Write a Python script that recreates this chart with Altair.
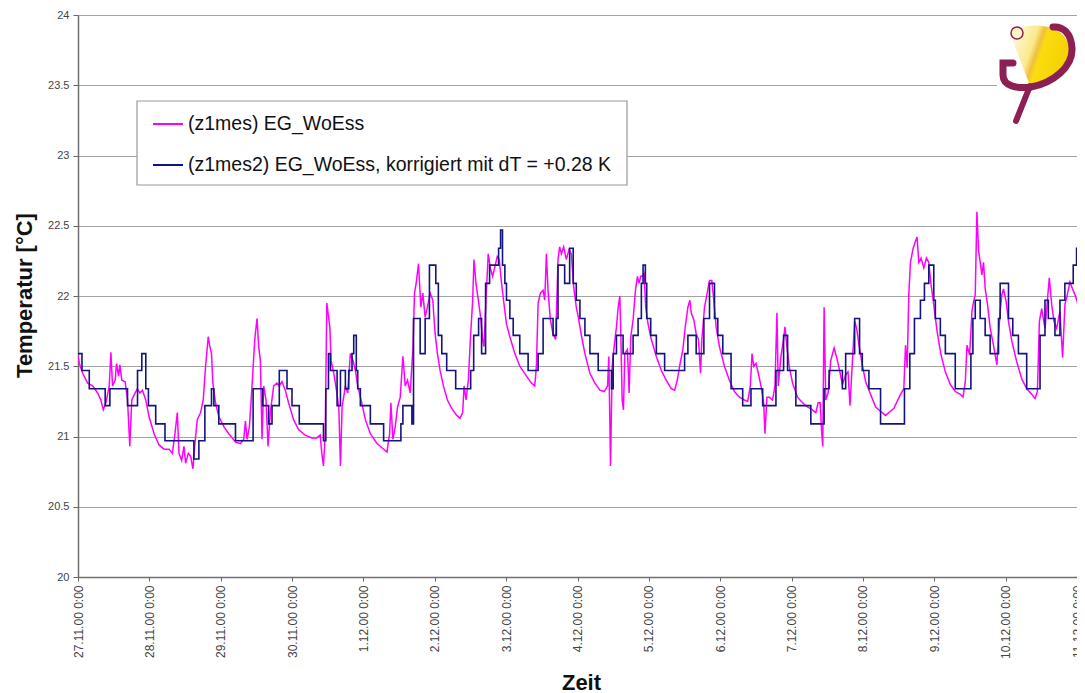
import base64
import json
import altair as alt
import pandas as pd

# ---------------- data (time in days since 27.11.00 0:00, temperature in °C) ----------------
tick_labels = ["27.11.00 0:00", "28.11.00 0:00", "29.11.00 0:00", "30.11.00 0:00",
               "1.12.00 0:00", "2.12.00 0:00", "3.12.00 0:00", "4.12.00 0:00",
               "5.12.00 0:00", "6.12.00 0:00", "7.12.00 0:00", "8.12.00 0:00",
               "9.12.00 0:00", "10.12.00 0:00", "11.12.00 0:00"]
y_ticks = [20, 20.5, 21, 21.5, 22, 22.5, 23, 23.5, 24]

series_names = ["(z1mes) EG_WoEss",
                "(z1mes2) EG_WoEss, korrigiert mit dT = +0.28 K"]
series_colors = ["#ff00ff", "#14147f"]

z1mes = [
    (0.000, 21.57), (0.019, 21.52), (0.065, 21.45), (0.135, 21.38), (0.205, 21.36),
    (0.275, 21.31), (0.321, 21.26), (0.354, 21.19), (0.391, 21.24), (0.438, 21.36),
    (0.461, 21.60), (0.484, 21.36), (0.521, 21.40), (0.540, 21.52), (0.568, 21.43),
    (0.587, 21.51), (0.614, 21.40), (0.661, 21.39), (0.694, 21.26), (0.726, 20.93),
    (0.754, 21.26), (0.801, 21.31), (0.833, 21.34), (0.866, 21.31), (0.903, 21.33),
    (0.950, 21.26), (0.996, 21.14), (1.066, 21.02), (1.136, 20.94), (1.206, 20.91),
    (1.276, 20.91), (1.322, 20.88), (1.359, 21.02), (1.392, 21.17), (1.415, 20.88),
    (1.452, 20.83), (1.485, 20.93), (1.508, 20.81), (1.546, 20.88), (1.578, 20.86),
    (1.611, 20.77), (1.639, 20.95), (1.671, 21.12), (1.718, 21.17), (1.755, 21.26),
    (1.788, 21.50), (1.825, 21.71), (1.848, 21.64), (1.871, 21.59), (1.890, 21.38),
    (1.927, 21.24), (1.974, 21.14), (2.044, 21.07), (2.114, 21.02), (2.207, 20.96),
    (2.276, 20.95), (2.323, 20.98), (2.346, 21.11), (2.370, 20.98), (2.402, 21.07),
    (2.439, 21.36), (2.477, 21.69), (2.509, 21.84), (2.532, 21.64), (2.556, 21.54),
    (2.579, 20.98), (2.602, 21.36), (2.635, 21.26), (2.663, 20.93), (2.695, 21.17),
    (2.742, 21.36), (2.789, 21.38), (2.821, 21.36), (2.858, 21.39), (2.905, 21.33),
    (2.951, 21.24), (3.021, 21.12), (3.091, 21.05), (3.184, 21.01), (3.277, 20.99),
    (3.347, 20.99), (3.394, 21.01), (3.417, 20.88), (3.440, 20.79), (3.464, 21.02),
    (3.487, 21.95), (3.529, 21.78), (3.547, 21.54), (3.585, 21.45), (3.622, 21.33),
    (3.655, 21.21), (3.678, 20.79), (3.701, 21.21), (3.748, 21.36), (3.780, 21.31),
    (3.817, 21.59), (3.855, 21.54), (3.887, 21.47), (3.920, 21.36), (3.967, 21.26),
    (4.027, 21.12), (4.097, 21.02), (4.190, 20.95), (4.260, 20.92), (4.330, 20.89),
    (4.367, 21.02), (4.385, 21.24), (4.413, 20.98), (4.446, 21.07), (4.478, 21.21),
    (4.516, 21.28), (4.553, 21.57), (4.586, 21.36), (4.618, 21.40), (4.655, 21.31),
    (4.693, 21.62), (4.716, 22.02), (4.739, 22.09), (4.772, 22.23), (4.804, 21.92),
    (4.832, 22.02), (4.865, 21.85), (4.897, 21.92), (4.935, 22.02), (4.972, 21.97),
    (5.005, 21.73), (5.037, 21.59), (5.074, 21.47), (5.121, 21.36), (5.177, 21.26),
    (5.237, 21.20), (5.307, 21.15), (5.354, 21.13), (5.391, 21.17), (5.410, 21.36),
    (5.438, 21.26), (5.470, 21.40), (5.503, 21.73), (5.531, 21.97), (5.549, 22.26),
    (5.577, 22.09), (5.610, 21.97), (5.642, 21.85), (5.670, 21.69), (5.689, 21.64),
    (5.717, 21.97), (5.749, 22.30), (5.782, 22.19), (5.810, 22.14), (5.843, 22.21),
    (5.875, 22.28), (5.903, 22.26), (5.936, 22.09), (5.968, 21.95), (6.005, 21.80),
    (6.052, 21.71), (6.122, 21.59), (6.192, 21.50), (6.285, 21.43), (6.355, 21.38),
    (6.401, 21.36), (6.424, 21.50), (6.448, 21.95), (6.480, 22.02), (6.518, 22.04),
    (6.541, 21.97), (6.564, 22.30), (6.587, 22.04), (6.620, 21.83), (6.657, 21.73),
    (6.694, 21.69), (6.727, 22.26), (6.750, 22.35), (6.774, 22.30), (6.806, 22.35),
    (6.843, 22.26), (6.881, 22.33), (6.913, 22.30), (6.946, 22.07), (6.983, 21.92),
    (7.011, 21.85), (7.058, 21.71), (7.104, 21.59), (7.174, 21.45), (7.244, 21.38),
    (7.314, 21.33), (7.374, 21.32), (7.421, 21.36), (7.439, 21.57), (7.463, 20.79),
    (7.486, 21.50), (7.514, 21.64), (7.546, 21.78), (7.570, 21.92), (7.593, 22.00),
    (7.607, 21.73), (7.626, 21.26), (7.644, 21.19), (7.663, 21.59), (7.700, 21.62),
    (7.723, 21.31), (7.747, 21.71), (7.779, 21.83), (7.812, 22.04), (7.840, 22.14),
    (7.863, 22.09), (7.886, 22.14), (7.909, 22.14), (7.933, 22.16), (7.956, 21.92),
    (7.989, 21.80), (8.035, 21.69), (8.105, 21.57), (8.175, 21.47), (8.245, 21.40),
    (8.314, 21.34), (8.361, 21.33), (8.398, 21.40), (8.431, 21.50), (8.477, 21.62),
    (8.510, 21.78), (8.547, 21.92), (8.575, 21.97), (8.594, 21.88), (8.631, 21.83),
    (8.664, 21.73), (8.696, 21.69), (8.724, 21.45), (8.743, 21.69), (8.780, 21.92),
    (8.817, 22.02), (8.850, 22.11), (8.882, 22.11), (8.910, 21.97), (8.943, 21.78),
    (8.989, 21.64), (9.059, 21.50), (9.129, 21.40), (9.199, 21.32), (9.269, 21.28),
    (9.339, 21.26), (9.385, 21.25), (9.422, 21.36), (9.446, 21.59), (9.469, 21.50),
    (9.502, 21.52), (9.534, 21.45), (9.571, 21.36), (9.609, 21.24), (9.627, 21.02),
    (9.655, 21.28), (9.688, 21.28), (9.734, 21.26), (9.767, 21.36), (9.795, 21.88),
    (9.813, 21.36), (9.851, 21.57), (9.888, 21.69), (9.907, 21.78), (9.935, 21.64),
    (9.967, 21.50), (10.014, 21.38), (10.083, 21.28), (10.153, 21.24), (10.223, 21.21),
    (10.293, 21.19), (10.340, 21.17), (10.372, 21.24), (10.400, 21.24), (10.423, 21.02),
    (10.437, 20.93), (10.456, 21.92), (10.479, 21.26), (10.512, 21.31), (10.549, 21.54),
    (10.596, 21.63), (10.633, 21.56), (10.665, 21.49), (10.712, 21.37), (10.759, 21.44),
    (10.791, 21.46), (10.819, 21.22), (10.852, 21.53), (10.884, 21.82), (10.912, 21.77),
    (10.945, 21.65), (10.991, 21.51), (11.038, 21.39), (11.108, 21.30), (11.178, 21.21),
    (11.247, 21.18), (11.317, 21.15), (11.387, 21.18), (11.434, 21.20), (11.480, 21.25),
    (11.527, 21.30), (11.573, 21.34), (11.597, 21.65), (11.620, 21.49), (11.643, 22.01),
    (11.666, 22.24), (11.704, 22.34), (11.736, 22.39), (11.759, 22.42), (11.783, 22.24),
    (11.815, 22.27), (11.853, 22.20), (11.890, 22.27), (11.922, 22.24), (11.955, 22.08),
    (11.992, 21.94), (12.039, 21.75), (12.095, 21.58), (12.155, 21.46), (12.225, 21.37),
    (12.295, 21.32), (12.365, 21.30), (12.402, 21.28), (12.435, 21.39), (12.458, 21.65),
    (12.495, 21.58), (12.528, 21.89), (12.551, 21.96), (12.574, 22.01), (12.597, 22.60),
    (12.621, 22.32), (12.644, 22.24), (12.667, 22.15), (12.690, 22.24), (12.714, 22.05),
    (12.746, 21.94), (12.784, 21.77), (12.830, 21.65), (12.877, 21.51), (12.900, 21.72),
    (12.923, 21.89), (12.947, 22.01), (12.970, 22.05), (13.007, 21.96), (13.040, 21.82),
    (13.086, 21.68), (13.156, 21.53), (13.226, 21.41), (13.296, 21.34), (13.365, 21.30),
    (13.412, 21.27), (13.445, 21.32), (13.473, 21.82), (13.505, 21.91), (13.552, 21.77),
    (13.584, 21.96), (13.612, 22.13), (13.645, 21.94), (13.677, 21.82), (13.715, 21.77),
    (13.761, 21.89), (13.798, 21.56), (13.831, 21.94), (13.864, 22.01), (13.901, 22.10),
    (13.938, 22.05), (13.971, 22.01), (14.003, 21.96), (14.031, 21.89), (14.054, 21.82),
]

z1mes2 = [
    (0.000, 21.59), (0.056, 21.47), (0.158, 21.34), (0.381, 21.22), (0.447, 21.34),
    (0.694, 21.22), (0.834, 21.47), (0.894, 21.59), (0.950, 21.34), (0.987, 21.22),
    (1.089, 21.09), (1.219, 20.97), (1.624, 20.84), (1.694, 20.97), (1.778, 21.22),
    (1.871, 21.34), (1.904, 21.22), (1.973, 21.09), (2.207, 20.97), (2.454, 21.34),
    (2.588, 21.22), (2.672, 21.09), (2.719, 21.22), (2.821, 21.47), (2.929, 21.34),
    (2.999, 21.22), (3.101, 21.09), (3.440, 20.97), (3.473, 21.34), (3.510, 21.59),
    (3.538, 21.47), (3.631, 21.22), (3.678, 21.47), (3.747, 21.34), (3.794, 21.47),
    (3.840, 21.59), (3.864, 21.72), (3.900, 21.47), (3.920, 21.34), (3.957, 21.22),
    (4.097, 21.09), (4.283, 20.97), (4.525, 21.09), (4.553, 21.22), (4.679, 21.09),
    (4.702, 21.84), (4.795, 21.59), (4.865, 21.84), (4.925, 22.22), (5.014, 22.09),
    (5.050, 21.72), (5.098, 21.59), (5.167, 21.47), (5.293, 21.34), (5.503, 21.47),
    (5.545, 21.72), (5.614, 21.84), (5.656, 21.59), (5.712, 22.09), (5.768, 22.22),
    (5.894, 22.34), (5.922, 22.47), (5.949, 22.22), (5.982, 22.09), (6.005, 21.97),
    (6.052, 21.84), (6.099, 21.72), (6.191, 21.59), (6.308, 21.47), (6.448, 21.59),
    (6.518, 21.84), (6.658, 21.72), (6.704, 21.84), (6.727, 22.22), (6.820, 22.09),
    (6.890, 22.34), (6.940, 22.09), (6.983, 21.97), (7.034, 21.84), (7.104, 21.72),
    (7.174, 21.59), (7.290, 21.47), (7.476, 21.34), (7.500, 21.59), (7.546, 21.72),
    (7.639, 21.59), (7.779, 21.72), (7.849, 21.84), (7.895, 22.09), (7.919, 22.22),
    (7.951, 22.09), (7.970, 21.84), (8.026, 21.72), (8.105, 21.59), (8.221, 21.47),
    (8.501, 21.59), (8.547, 21.72), (8.663, 21.59), (8.771, 21.84), (8.850, 22.09),
    (8.920, 21.84), (8.966, 21.72), (9.036, 21.59), (9.152, 21.34), (9.315, 21.22),
    (9.431, 21.34), (9.595, 21.22), (9.781, 21.47), (9.888, 21.72), (9.944, 21.47),
    (10.060, 21.22), (10.270, 21.09), (10.456, 21.34), (10.526, 21.47), (10.712, 21.34),
    (10.758, 21.59), (10.884, 21.84), (10.953, 21.59), (10.991, 21.47), (11.084, 21.34),
    (11.247, 21.09), (11.582, 21.34), (11.657, 21.59), (11.722, 21.84), (11.806, 21.97),
    (11.862, 22.09), (11.923, 22.22), (11.993, 21.97), (12.015, 21.84), (12.085, 21.72),
    (12.155, 21.59), (12.294, 21.34), (12.513, 21.59), (12.541, 21.84), (12.574, 21.97),
    (12.643, 21.84), (12.713, 21.72), (12.783, 21.59), (12.900, 21.84), (12.923, 22.09),
    (13.040, 21.84), (13.100, 21.72), (13.179, 21.59), (13.295, 21.34), (13.482, 21.72),
    (13.551, 21.97), (13.598, 21.84), (13.691, 21.72), (13.761, 21.97), (13.830, 22.09),
    (13.947, 22.22), (13.994, 22.34), (14.064, 22.34),
]

# visible time window (days)
x_max = 14.0

# ---------------- build tables ----------------
mag_df = pd.DataFrame(z1mes, columns=["tage", "temp"])
blue_df = pd.DataFrame(z1mes2, columns=["tage", "temp"])

FONT = "Liberation Sans"
PLOT_W, PLOT_H = 999, 562
minor_ticks = [i / 8 for i in range(0, 14 * 8 + 1)]
label_expr = ("datum.value % 1 === 0 ? " + json.dumps(tick_labels)
              + "[datum.value] : ''")

x_enc = alt.X(
    "tage:Q",
    scale=alt.Scale(domain=[0, x_max], nice=False, zero=False),
    axis=alt.Axis(
        values=minor_ticks, labelExpr=label_expr, labelAngle=270,
        labelOverlap=False, labelFlush=False, labelBound=False,
        grid=False, tickSize=4, tickColor="#666666", tickWidth=1,
        domainColor="#707070", domainWidth=1.5,
        labelFont=FONT, labelFontSize=12, labelColor="#444444", labelPadding=4,
        title="Zeit", titleFont=FONT, titleFontSize=22, titleFontWeight="bold",
        titleColor="#111111", titleX=503, titleY=112, titleAlign="center",
        titleBaseline="alphabetic",
    ),
)
y_enc = alt.Y(
    "temp:Q",
    scale=alt.Scale(domain=[20, 24], nice=False, zero=False),
    axis=alt.Axis(
        values=y_ticks, format="~g", grid=True, gridColor="#a3a3a3", gridWidth=1.2,
        tickSize=5, tickColor="#666666", domainColor="#707070", domainWidth=1.5,
        labelFont=FONT, labelFontSize=11, labelColor="#444444", labelPadding=4,
        labelFlush=False,
        title="Temperatur [°C]", titleFont=FONT, titleFontSize=22,
        titleFontWeight="bold", titleColor="#111111", titleAngle=270,
        titleX=-54, titleY=280, titleAlign="center", titleBaseline="middle",
    ),
)

mag_line = alt.Chart(mag_df).mark_line(
    color=series_colors[0], strokeWidth=1.5, clip=True
).encode(x=x_enc, y=y_enc)

blue_line = alt.Chart(blue_df).mark_line(
    color=series_colors[1], strokeWidth=1.6, interpolate="step-after", clip=True
).encode(x="tage:Q", y="temp:Q")

one = pd.DataFrame({"k": [0]})

legend_box = alt.Chart(one).mark_rect(
    fill="white", stroke="#9a9a9a", strokeWidth=1.2
).encode(x=alt.value(59), x2=alt.value(549), y=alt.value(86), y2=alt.value(170))

legend_layers = []
for i, (name, col) in enumerate(zip(series_names, series_colors)):
    ly = 109 + i * 41
    legend_layers.append(
        alt.Chart(one).mark_rule(color=col, strokeWidth=2).encode(
            x=alt.value(75), x2=alt.value(105), y=alt.value(ly))
    )
    legend_layers.append(
        alt.Chart(one).mark_text(
            align="left", baseline="middle", font=FONT, fontSize=19.5, color="#111111"
        ).encode(x=alt.value(110), y=alt.value(ly), text=alt.value(name))
    )

logo_svg = """<svg xmlns="http://www.w3.org/2000/svg" width="80" height="108" viewBox="0 0 80 108">
<defs><linearGradient id="g" x1="0" y1="0" x2="1" y2="0.35">
<stop offset="0" stop-color="#fffbea"/><stop offset="0.42" stop-color="#fbe98c"/>
<stop offset="0.52" stop-color="#f0c040"/><stop offset="0.6" stop-color="#fadc10"/>
<stop offset="1" stop-color="#f5d200"/></linearGradient></defs>
<rect width="80" height="108" fill="white"/>
<path d="M15,22 L25,10 C45,6 68,10 72,30 C75,48 58,64 40,67 L32,66 Z" fill="url(#g)"/>
<path d="M16,46 L6,46 L6,58 C6,69 20,72 34,70 C56,66 76,50 75,31 C74,16 66,9 56,10"
 fill="none" stroke="#8c2055" stroke-width="7" stroke-linecap="round"/>
<path d="M33,69 L19,104" stroke="#8c2055" stroke-width="6" stroke-linecap="round"/>
<circle cx="20" cy="16" r="6" fill="#fff6c4" stroke="#8c2055" stroke-width="1.5"/>
</svg>"""
logo_uri = "data:image/svg+xml;base64," + base64.b64encode(logo_svg.encode()).decode()

logo = alt.Chart(one).mark_image(
    width=80, height=108, align="left", baseline="top"
).encode(x=alt.value(919), y=alt.value(2), url=alt.value(logo_uri))

chart = alt.layer(
    mag_line, blue_line, legend_box, *legend_layers, logo
).properties(
    width=PLOT_W, height=PLOT_H,
    padding={"left": 70, "top": 7, "right": 0, "bottom": 116},
    autosize=alt.AutoSizeParams(type="none"),
).configure_view(stroke=None)

chart.save("out.html", embed_options={"renderer": "svg", "actions": False})
